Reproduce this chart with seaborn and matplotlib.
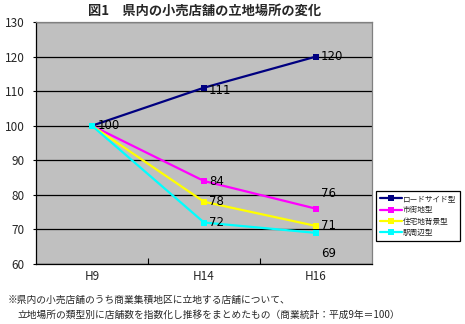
import matplotlib
matplotlib.use("Agg")
import matplotlib.pyplot as plt
import seaborn as sns
import pandas as pd
from matplotlib.ticker import FixedLocator

sns.set_theme(style="white")
plt.rcParams['font.family'] = ['Noto Sans CJK JP', 'DejaVu Sans']

# Index of store counts by location type (H9 = 100)
years = ["H9", "H14", "H16"]
series_names = ["ロードサイド型", "市街地型", "住宅地背景型", "駅周辺型"]
roadside = [100, 111, 120]
downtown = [100, 84, 76]
residential = [100, 78, 71]
station = [100, 72, 69]
colors = ["#000080", "#FF00FF", "#FFFF00", "#00FFFF"]

values = [roadside, downtown, residential, station]
rows = []
for name, vals in zip(series_names, values):
    for i, (yr, v) in enumerate(zip(years, vals)):
        rows.append({"year": yr, "pos": i, "type": name, "index": v})
df = pd.DataFrame(rows)

fig = plt.figure(figsize=(4.65, 3.24), dpi=100)
ax = fig.add_axes([36 / 465, 1 - 264 / 324, 336 / 465, 242 / 324])
ax.set_facecolor("#C0C0C0")

sns.lineplot(data=df, x="pos", y="index", hue="type", hue_order=series_names,
             palette=colors, marker="s", markersize=4.5, markeredgewidth=0,
             linewidth=1.6, ax=ax, legend=True)

# value labels next to each point (pixel offsets)
label_offsets = {
    "ロードサイド型": [(6, 0), (5, -3), (5, 0)],
    "市街地型": [None, (5, 0), (5, 15)],
    "住宅地背景型": [None, (5, 0), (5, 0)],
    "駅周辺型": [None, (5, 0), (5, -21)],
}
for name, vals in zip(series_names, values):
    for i, v in enumerate(vals):
        off = label_offsets[name][i]
        if off is None:
            continue
        ax.annotate(str(v), (i, v), xytext=off, textcoords="offset pixels",
                    ha="left", va="center", fontsize=8.5, color="black",
                    family=['DejaVu Sans'])

ax.set_xlim(-0.5, 2.5)
ax.set_ylim(60, 130)
ax.set_yticks(range(60, 131, 10))
ax.set_xticks(range(len(years)))
ax.set_xticklabels(years)
ax.xaxis.set_minor_locator(FixedLocator([0.5, 1.5]))
ax.tick_params(axis="x", which="major", length=0, labelsize=8.5, pad=4)
ax.tick_params(axis="x", which="minor", length=4, direction="in", width=0.8,
               color="black", bottom=True)
ax.tick_params(axis="y", which="major", length=2, direction="out", width=0.8,
               color="black", left=True, labelsize=8.5, pad=6)
ax.yaxis.grid(True, color="black", linewidth=0.9)
ax.set_axisbelow(True)
ax.set_xlabel("")
ax.set_ylabel("")
for side in ["left", "bottom"]:
    ax.spines[side].set_color("black")
    ax.spines[side].set_linewidth(0.9)
for side in ["top", "right"]:
    ax.spines[side].set_color("#808080")
    ax.spines[side].set_linewidth(0.9)

leg = ax.legend(loc="upper left", bbox_to_anchor=(376 / 465, 1 - 191 / 324),
                bbox_transform=fig.transFigure, fontsize=5.5, frameon=True,
                fancybox=False, edgecolor="black", framealpha=1,
                borderpad=0.5, labelspacing=0.45, handlelength=2.9,
                handletextpad=0.15, borderaxespad=0)
leg.get_frame().set_linewidth(0.9)

fig.text(205 / 465, 1 - 11 / 324, "図1　県内の小売店舗の立地場所の変化",
         ha="center", va="center", fontsize=9.5, fontweight="bold")
fig.text(8 / 465, 1 - 300 / 324,
         "※県内の小売店舗のうち商業集積地区に立地する店舗について、",
         ha="left", va="center", fontsize=7)
fig.text(17 / 465, 1 - 315 / 324,
         "立地場所の類型別に店舗数を指数化し推移をまとめたもの（商業統計：平成9年＝100）",
         ha="left", va="center", fontsize=7)

fig.savefig("out.png", dpi=100)
